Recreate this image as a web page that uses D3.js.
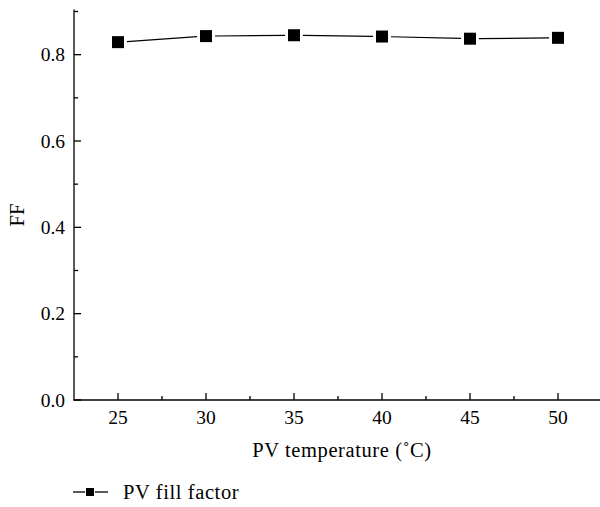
<!DOCTYPE html>
<html>
<head>
<meta charset="utf-8">
<script src="https://cdn.jsdelivr.net/npm/d3@7"></script>
<style>
  body { margin: 0; background: #fff; }
  svg { display: block; font-family: "Liberation Serif", "DejaVu Serif", serif; }
</style>
</head>
<body>
<svg id="chart" width="600" height="507"></svg>
<script>
// data
const temperatures = [25, 30, 35, 40, 45, 50];
const fillFactor = [0.829, 0.843, 0.845, 0.842, 0.837, 0.839];
const yTicks = [0.0, 0.2, 0.4, 0.6, 0.8];
const yMinorTicks = [0.1, 0.3, 0.5, 0.7, 0.9];
const xTicks = [25, 30, 35, 40, 45, 50];
const xMinorTicks = [27.5, 32.5, 37.5, 42.5, 47.5, 52.5];

const svg = d3.select("#chart");
const plotLeft = 74, plotBottom = 400, plotTop = 12;

const x = d3.scaleLinear().domain([22.5, 52.5]).range([plotLeft, 602]);
const y = d3.scaleLinear().domain([0, 0.9]).range([plotBottom, plotTop - 0.5]);

// y axis
const yAxis = svg.append("g").attr("transform", `translate(${plotLeft},0)`);
yAxis.append("line")
    .attr("x1", 0).attr("x2", 0)
    .attr("y1", y(0.9) - 2).attr("y2", plotBottom + 0.5)
    .attr("stroke", "#000").attr("stroke-width", 1.3);
yAxis.selectAll(".major").data(yTicks).enter().append("line")
    .attr("x1", 0).attr("x2", 7)
    .attr("y1", d => y(d)).attr("y2", d => y(d))
    .attr("stroke", "#000").attr("stroke-width", 1.3);
yAxis.selectAll(".minor").data(yMinorTicks).enter().append("line")
    .attr("x1", 0).attr("x2", 4)
    .attr("y1", d => y(d)).attr("y2", d => y(d))
    .attr("stroke", "#000").attr("stroke-width", 1.3);
yAxis.selectAll(".lbl").data(yTicks).enter().append("text")
    .attr("x", -9).attr("y", d => y(d)).attr("dy", "0.35em")
    .attr("text-anchor", "end").attr("font-size", 19.5)
    .text(d => d.toFixed(1));

// x axis
const xAxis = svg.append("g").attr("transform", `translate(0,${plotBottom})`);
xAxis.append("line")
    .attr("x1", plotLeft - 0.5).attr("x2", 600)
    .attr("y1", 0).attr("y2", 0)
    .attr("stroke", "#000").attr("stroke-width", 1.3);
xAxis.selectAll(".major").data(xTicks).enter().append("line")
    .attr("x1", d => x(d)).attr("x2", d => x(d))
    .attr("y1", 0).attr("y2", -7)
    .attr("stroke", "#000").attr("stroke-width", 1.3);
xAxis.selectAll(".minor").data(xMinorTicks).enter().append("line")
    .attr("x1", d => x(d)).attr("x2", d => x(d))
    .attr("y1", 0).attr("y2", -4)
    .attr("stroke", "#000").attr("stroke-width", 1.3);
xAxis.selectAll(".lbl").data(xTicks).enter().append("text")
    .attr("x", d => x(d)).attr("y", 24)
    .attr("text-anchor", "middle").attr("font-size", 19.5)
    .text(d => d);

// axis titles
svg.append("text")
    .attr("x", 342).attr("y", 457)
    .attr("text-anchor", "middle").attr("font-size", 20.5)
    .attr("letter-spacing", 0.6)
    .text("PV temperature (\u02DAC)");
svg.append("text")
    .attr("transform", "translate(24,215) rotate(-90)")
    .attr("text-anchor", "middle").attr("font-size", 20.5)
    .text("FF");

// series: segments with gaps around the markers
const pts = temperatures.map((t, i) => [x(t), y(fillFactor[i])]);
const gap = 9;
const segs = d3.pairs(pts).map(([a, b]) => {
    const dx = b[0] - a[0], dy = b[1] - a[1];
    const len = Math.hypot(dx, dy);
    return [a[0] + dx / len * gap, a[1] + dy / len * gap, b[0] - dx / len * gap, b[1] - dy / len * gap];
});
svg.selectAll(".seg").data(segs).enter().append("line")
    .attr("x1", d => d[0]).attr("y1", d => d[1])
    .attr("x2", d => d[2]).attr("y2", d => d[3])
    .attr("stroke", "#000").attr("stroke-width", 1.2);

const ms = 12;
svg.selectAll(".pt").data(pts).enter().append("rect")
    .attr("x", d => d[0] - ms / 2).attr("y", d => d[1] - ms / 2)
    .attr("width", ms).attr("height", ms)
    .attr("fill", "#000");

// legend
const lg = svg.append("g").attr("transform", "translate(0,492)");
lg.append("line").attr("x1", 73).attr("x2", 85).attr("y1", 0).attr("y2", 0)
    .attr("stroke", "#000").attr("stroke-width", 1.3);
lg.append("line").attr("x1", 95).attr("x2", 108).attr("y1", 0).attr("y2", 0)
    .attr("stroke", "#000").attr("stroke-width", 1.3);
lg.append("rect").attr("x", 86).attr("y", -4).attr("width", 8).attr("height", 8).attr("fill", "#000");
lg.append("text").attr("x", 123).attr("y", 0).attr("dy", "0.35em")
    .attr("font-size", 20.5).attr("letter-spacing", 0.6).text("PV fill factor");
</script>
</body>
</html>
